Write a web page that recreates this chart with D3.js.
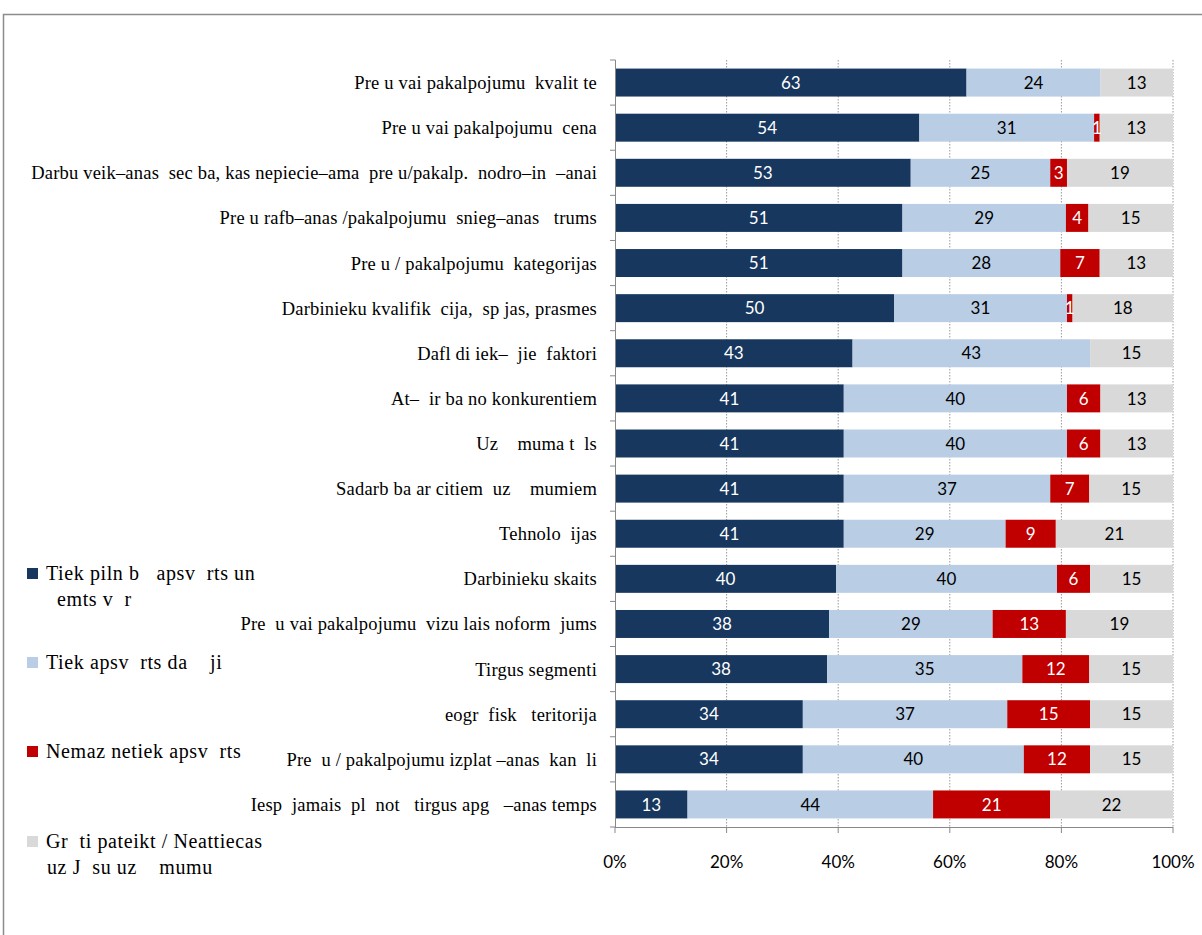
<!DOCTYPE html>
<html>
<head>
<meta charset="utf-8">
<script src="https://cdn.jsdelivr.net/npm/d3@7"></script>
<style>
  body { margin: 0; background: #fff; }
  text { white-space: pre; }
</style>
</head>
<body>
<svg width="1202" height="935"></svg>
<script>
// categories as they appear in the picture (missing glyphs left as gaps)
const categories = [
  "Pre u vai pakalpojumu  kvalit te",
  "Pre u vai pakalpojumu  cena",
  "Darbu veik\u2013anas  sec ba, kas nepiecie\u2013ama  pre u/pakalp.  nodro\u2013in  \u2013anai",
  "Pre u rafb\u2013anas /pakalpojumu  snieg\u2013anas   trums",
  "Pre u / pakalpojumu  kategorijas",
  "Darbinieku kvalifik  cija,  sp jas, prasmes",
  "Dafl di iek\u2013  jie  faktori",
  "At\u2013  ir ba no konkurentiem",
  "Uz    muma t  ls",
  "Sadarb ba ar citiem  uz    mumiem",
  "Tehnolo  ijas",
  "Darbinieku skaits",
  "Pre  u vai pakalpojumu  vizu lais noform  jums",
  "Tirgus segmenti",
  "eogr  fisk   teritorija",
  "Pre  u / pakalpojumu izplat \u2013anas  kan  li",
  "Iesp  jamais  pl  not   tirgus apg   \u2013anas temps"
];

const fully   = [63, 54, 53, 51, 51, 50, 43, 41, 41, 41, 41, 40, 38, 38, 34, 34, 13];
const partly  = [24, 31, 25, 29, 28, 31, 43, 40, 40, 37, 29, 40, 29, 35, 37, 40, 44];
const notAtAll = [0, 1, 3, 4, 7, 1, 0, 6, 6, 7, 9, 6, 13, 12, 15, 12, 21];
const dontKnow = [13, 13, 19, 15, 13, 18, 15, 13, 13, 15, 21, 15, 19, 15, 15, 15, 22];

const seriesKeys = ["fully", "partly", "notAtAll", "dontKnow"];
const seriesColors = ["#17375e", "#b9cde5", "#c00000", "#d9d9d9"];
const labelColors = ["#fff", "#000", "#fff", "#000"];

const legendLines = [
  ["Tiek piln b   apsv  rts un", "emts v  r"],
  ["Tiek apsv  rts da    ji"],
  ["Nemaz netiek apsv  rts"],
  ["Gr  ti pateikt / Neattiecas", "uz J  su uz    mumu"]
];

const xTicks = [0, 0.2, 0.4, 0.6, 0.8, 1];

const rows = categories.map((c, i) => ({
  cat: c, fully: fully[i], partly: partly[i], notAtAll: notAtAll[i], dontKnow: dontKnow[i]
}));

const svg = d3.select("svg");

// outer frame
svg.append("path")
  .attr("d", "M3.5,935 V14.5 H1202")
  .attr("fill", "none")
  .attr("stroke", "#8c8c8c")
  .attr("stroke-width", 1.5);

const plotL = 615, plotR = 1173, plotT = 60, plotB = 827;

const x = d3.scaleLinear().domain([0, 1]).range([plotL, plotR]);
const y = d3.scaleBand().domain(categories).range([plotT, plotB]).paddingInner(0.38).paddingOuter(0.19);
const color = d3.scaleOrdinal().domain(seriesKeys).range(seriesColors);

const stack = d3.stack().keys(seriesKeys).offset(d3.stackOffsetExpand);
const stacked = stack(rows);

// gridlines
svg.append("g")
  .selectAll("line")
  .data(xTicks.slice(1))
  .join("line")
  .attr("x1", d => x(d)).attr("x2", d => x(d))
  .attr("y1", plotT).attr("y2", plotB)
  .attr("stroke", "#999")
  .attr("stroke-dasharray", "1.5,1.5");

// bars
const layers = svg.append("g")
  .selectAll("g")
  .data(stacked)
  .join("g")
  .attr("fill", d => color(d.key));

layers.selectAll("rect")
  .data(d => d)
  .join("rect")
  .attr("x", d => x(d[0]))
  .attr("y", d => y(d.data.cat))
  .attr("width", d => x(d[1]) - x(d[0]))
  .attr("height", y.bandwidth());

// value labels
stacked.forEach((layer, si) => {
  svg.append("g")
    .selectAll("text")
    .data(layer.filter(d => d.data[layer.key] > 0))
    .join("text")
    .attr("x", d => (x(d[0]) + x(d[1])) / 2)
    .attr("y", d => y(d.data.cat) + y.bandwidth() / 2)
    .attr("dy", "0.36em")
    .attr("text-anchor", "middle")
    .attr("font-family", "Lato, 'Open Sans', sans-serif")
    .attr("font-size", 17)
    .attr("fill", labelColors[si])
    .text(d => d.data[layer.key]);
});

// y axis line and ticks
const yAxis = svg.append("g").attr("stroke", "#888");
yAxis.append("line")
  .attr("x1", plotL + 0.5).attr("x2", plotL + 0.5)
  .attr("y1", plotT).attr("y2", plotB);
yAxis.selectAll(".yt")
  .data(d3.range(categories.length + 1))
  .join("line")
  .attr("class", "yt")
  .attr("x1", plotL - 5).attr("x2", plotL + 0.5)
  .attr("y1", i => plotT + i * (plotB - plotT) / categories.length)
  .attr("y2", i => plotT + i * (plotB - plotT) / categories.length);

// x axis line and ticks
const xAxis = svg.append("g").attr("stroke", "#888");
xAxis.append("line")
  .attr("x1", plotL).attr("x2", plotR)
  .attr("y1", plotB + 0.5).attr("y2", plotB + 0.5);
xAxis.selectAll(".xt")
  .data(xTicks)
  .join("line")
  .attr("class", "xt")
  .attr("x1", d => x(d)).attr("x2", d => x(d))
  .attr("y1", plotB).attr("y2", plotB + 6);

svg.append("g")
  .selectAll("text")
  .data(xTicks)
  .join("text")
  .attr("x", d => x(d))
  .attr("y", 868)
  .attr("text-anchor", "middle")
  .attr("font-family", "Lato, 'Open Sans', sans-serif")
  .attr("font-size", 17)
  .attr("fill", "#000")
  .text(d => d3.format(".0%")(d));

// category labels
svg.append("g")
  .selectAll("text")
  .data(categories)
  .join("text")
  .attr("x", 597)
  .attr("y", d => y(d) + y.bandwidth() / 2)
  .attr("dy", "0.35em")
  .attr("text-anchor", "end")
  .attr("font-family", "'Liberation Serif', 'Times New Roman', serif")
  .attr("font-size", 18.5)
  .attr("letter-spacing", 0.2)
  .attr("fill", "#000")
  .text(d => d);

// legend
const legendY = [580, 669, 758, 848];
const legend = svg.append("g");
legendLines.forEach((lines, i) => {
  legend.append("rect")
    .attr("x", 27).attr("y", legendY[i] - 12)
    .attr("width", 11).attr("height", 11)
    .attr("fill", seriesColors[i]);
  lines.forEach((ln, j) => {
    legend.append("text")
      .attr("x", j === 0 ? 46 : (i === 0 ? 57 : 47))
      .attr("y", legendY[i] + j * 26)
      .attr("font-family", "'Liberation Serif', 'Times New Roman', serif")
      .attr("font-size", 20)
      .attr("letter-spacing", 0.6)
      .attr("fill", "#000")
      .text(ln);
  });
});
</script>
</body>
</html>
